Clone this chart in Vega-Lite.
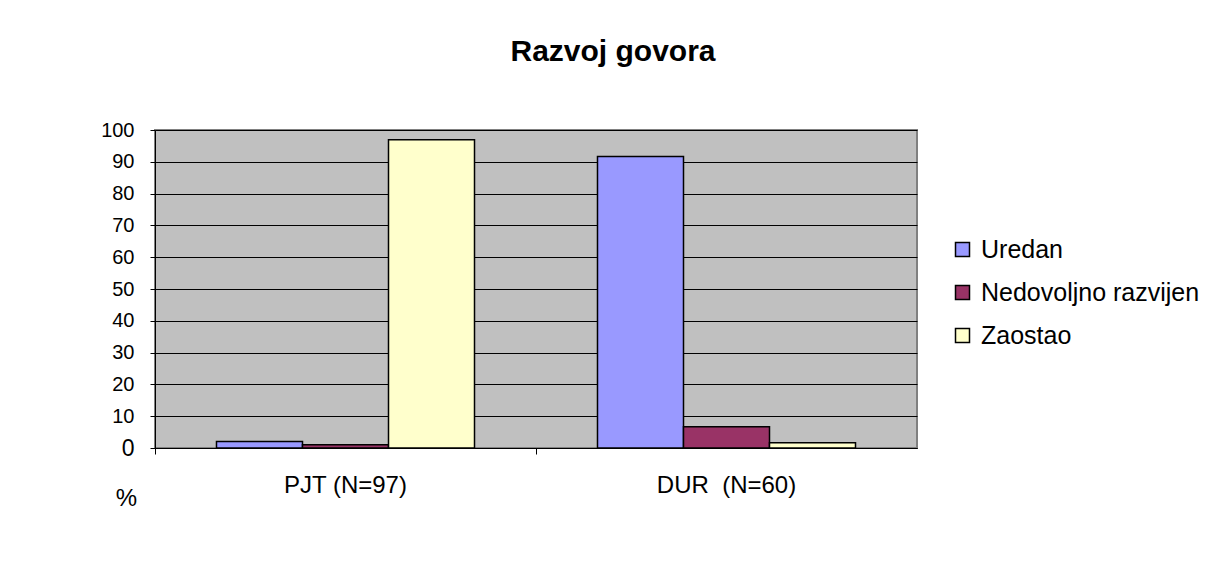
{
  "$schema": "https://vega.github.io/schema/vega-lite/v6.json",
  "autosize": {"type": "none"},
  "padding": {"left": 155, "top": 130, "right": 291, "bottom": 121},
  "width": 762,
  "height": 318,
  "background": "white",
  "title": {
    "text": "Razvoj govora",
    "fontSize": 30,
    "fontWeight": "bold",
    "font": "Liberation Sans",
    "color": "black",
    "anchor": "middle",
    "frame": "group",
    "baseline": "alphabetic",
    "offset": 29,
    "dx": 77
  },
  "config": {
    "font": "Liberation Sans",
    "view": {"fill": "#C0C0C0", "stroke": "#808080", "strokeWidth": 2}
  },
  "data": {
    "values": [
      {"grupa": "PJT (N=97)", "razvoj": "Uredan", "postotak": 2.06},
      {"grupa": "PJT (N=97)", "razvoj": "Nedovoljno razvijen", "postotak": 1.03},
      {"grupa": "PJT (N=97)", "razvoj": "Zaostao", "postotak": 96.91},
      {"grupa": "DUR \u00a0(N=60)", "razvoj": "Uredan", "postotak": 91.67},
      {"grupa": "DUR \u00a0(N=60)", "razvoj": "Nedovoljno razvijen", "postotak": 6.67},
      {"grupa": "DUR \u00a0(N=60)", "razvoj": "Zaostao", "postotak": 1.67}
    ]
  },
  "mark": {"type": "bar", "stroke": "black", "strokeWidth": 1.5},
  "encoding": {
    "x": {
      "field": "grupa",
      "type": "nominal",
      "sort": ["PJT (N=97)", "DUR \u00a0(N=60)"],
      "scale": {"paddingInner": 0, "paddingOuter": 0},
      "axis": {
        "title": null,
        "labelAngle": 0,
        "labelFontSize": 24,
        "labelColor": "black",
        "labelBaseline": "alphabetic",
        "labelPadding": 38,
        "bandPosition": 0,
        "ticks": true,
        "tickSize": 6,
        "tickColor": "black",
        "domainColor": "black",
        "domainWidth": 1,
        "grid": false
      }
    },
    "xOffset": {
      "field": "razvoj",
      "type": "nominal",
      "sort": ["Uredan", "Nedovoljno razvijen", "Zaostao"],
      "scale": {"paddingInner": 0, "paddingOuter": 0.715}
    },
    "y": {
      "field": "postotak",
      "type": "quantitative",
      "scale": {"domain": [0, 100]},
      "axis": {
        "values": [0, 10, 20, 30, 40, 50, 60, 70, 80, 90, 100],
        "title": "%",
        "titleAngle": 0,
        "titleX": -29,
        "titleY": 368,
        "titleAlign": "center",
        "titleBaseline": "middle",
        "titleFontSize": 24,
        "titleFontWeight": "normal",
        "titleColor": "black",
        "labelFontSize": {"expr": "datum.value == 0 ? 23 : 20"},
        "labelColor": "black",
        "labelPadding": 16,
        "tickSize": 5,
        "tickColor": "black",
        "domainColor": "black",
        "domainWidth": 1,
        "grid": true,
        "gridColor": "black",
        "gridWidth": 1,
        "gridOpacity": 1
      }
    },
    "color": {
      "field": "razvoj",
      "type": "nominal",
      "sort": ["Uredan", "Nedovoljno razvijen", "Zaostao"],
      "scale": {
        "domain": ["Uredan", "Nedovoljno razvijen", "Zaostao"],
        "range": ["#9999FF", "#993366", "#FFFFCC"]
      },
      "legend": {
        "title": null,
        "orient": "none",
        "legendX": 795,
        "legendY": 107,
        "padding": 0,
        "symbolType": "square",
        "symbolSize": 196,
        "symbolStrokeColor": "black",
        "symbolStrokeWidth": 1.5,
        "symbolOpacity": 1,
        "labelFontSize": 25,
        "labelColor": "black",
        "labelOffset": 6,
        "labelLimit": 400,
        "rowPadding": 17
      }
    }
  }
}
